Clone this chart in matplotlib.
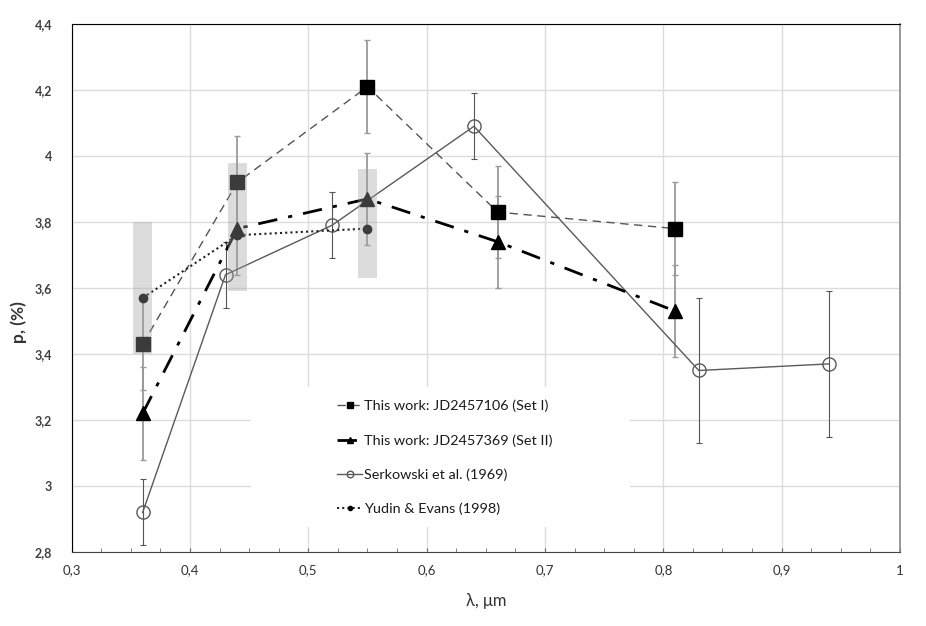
import numpy as np
import matplotlib
matplotlib.use("Agg")
import matplotlib.pyplot as plt
from matplotlib.ticker import MultipleLocator, FuncFormatter

plt.rcParams['font.family'] = ['Lato', 'DejaVu Sans']

# this work, set I (JD2457106)
lam_set1 = [0.36, 0.44, 0.55, 0.66, 0.81]
p_set1 = [3.43, 3.92, 4.21, 3.83, 3.78]
err_set1 = [0.14, 0.14, 0.14, 0.14, 0.14]

# this work, set II (JD2457369)
lam_set2 = [0.36, 0.44, 0.55, 0.66, 0.81]
p_set2 = [3.22, 3.78, 3.87, 3.74, 3.53]
err_set2 = [0.14, 0.14, 0.14, 0.14, 0.14]

# Serkowski et al. (1969)
lam_serk = [0.36, 0.43, 0.52, 0.64, 0.83, 0.94]
p_serk = [2.92, 3.64, 3.79, 4.09, 3.35, 3.37]
err_serk = [0.10, 0.10, 0.10, 0.10, 0.22, 0.22]

# Yudin & Evans (1998)
lam_yudin = [0.36, 0.44, 0.55]
p_yudin = [3.57, 3.76, 3.78]

# grey ranges
band_lam = [0.36, 0.44, 0.55]
band_lo = [3.40, 3.59, 3.63]
band_hi = [3.80, 3.98, 3.96]

labels = ['This work: JD2457106 (Set I)', 'This work: JD2457369 (Set II)',
          'Serkowski et al. (1969)', 'Yudin & Evans (1998)']

fig = plt.figure(figsize=(9.26, 6.26), dpi=100)
ax = fig.add_axes([0.0774, 0.1182, 0.8945, 0.8435])

# error bars
ax.errorbar(lam_set1, p_set1, yerr=err_set1, fmt='none', ecolor='#9a9a9a',
            elinewidth=1.3, capsize=2.5, capthick=1.0, zorder=2)
ax.errorbar(lam_set2, p_set2, yerr=err_set2, fmt='none', ecolor='#9a9a9a',
            elinewidth=1.3, capsize=2.5, capthick=1.0, zorder=2)
ax.errorbar(lam_serk, p_serk, yerr=err_serk, fmt='none', ecolor='#555555',
            elinewidth=0.8, capsize=2.5, capthick=0.8, zorder=2)

# lines
l1, = ax.plot(lam_set1, p_set1, color='#555555', lw=1.0, dashes=(6, 4),
              marker='s', ms=9.5, mfc='black', mec='black', zorder=4)
l2, = ax.plot(lam_set2, p_set2, color='black', lw=2.0, dashes=(7, 4, 1.5, 4),
              marker='^', ms=10, mfc='black', mec='black', zorder=4)
l3, = ax.plot(lam_serk, p_serk, color='#5a5a5a', lw=1.0,
              marker='o', ms=9.5, mfc='none', mec='#5a5a5a', mew=1.0, zorder=3)
l4, = ax.plot(lam_yudin, p_yudin, color='#222222', lw=1.5, dashes=(1, 1.5),
              marker='o', ms=6, mfc='black', mec='black', zorder=4)

# translucent grey ranges drawn on top
ax.bar(band_lam, np.array(band_hi) - np.array(band_lo), bottom=band_lo,
       width=0.0155, color='#a1a1a1', alpha=0.37, zorder=5, linewidth=0)

ax.set_xlim(0.3, 1.0)
ax.set_ylim(2.8, 4.4)
ax.xaxis.set_major_locator(MultipleLocator(0.1))
ax.xaxis.set_minor_locator(MultipleLocator(0.025))
ax.yaxis.set_major_locator(MultipleLocator(0.2))
fmt = FuncFormatter(lambda v, pos: ('%g' % round(v, 2)).replace('.', ','))
ax.xaxis.set_major_formatter(fmt)
ax.yaxis.set_major_formatter(fmt)

ax.set_axisbelow(True)
ax.grid(True, which='major', color='#dcdcdc', lw=1.0)
ax.tick_params(axis='x', which='both', direction='in', length=3, color='#666666',
               labelsize=9.5, labelcolor='#333333', pad=9)
ax.tick_params(axis='y', which='both', length=0, labelsize=9,
               labelcolor='#404040', pad=14)
for lbl in ax.get_yticklabels():
    lbl.set_fontweight('bold')

for side in ['top', 'left']:
    ax.spines[side].set_color('black')
ax.spines['bottom'].set_color('#444444')
ax.spines['right'].set_color('#888888')
ax.spines['right'].set_linewidth(1.2)

ax.set_xlabel('λ, μm', fontsize=12, color='#333333')
ax.xaxis.set_label_coords(0.5, -0.078)
ax.set_ylabel('p, (%)', fontsize=12.5, color='#333333', fontweight='bold')
ax.yaxis.set_label_coords(-0.054, 0.435)

# white box behind legend hiding the gridlines
ax.add_patch(plt.Rectangle((0.2165, 0.047), 0.4575, 0.2655, transform=ax.transAxes,
                           facecolor='white', edgecolor='none', zorder=1))
ax.legend([l1, l2, l3, l4], labels, loc='center', bbox_to_anchor=(0.4507, 0.179),
          frameon=False, fontsize=10.4, labelspacing=1.5, handlelength=1.75,
          handletextpad=0.15, markerscale=0.5, labelcolor='#1a1a1a')

fig.savefig('out.png', dpi=100)
